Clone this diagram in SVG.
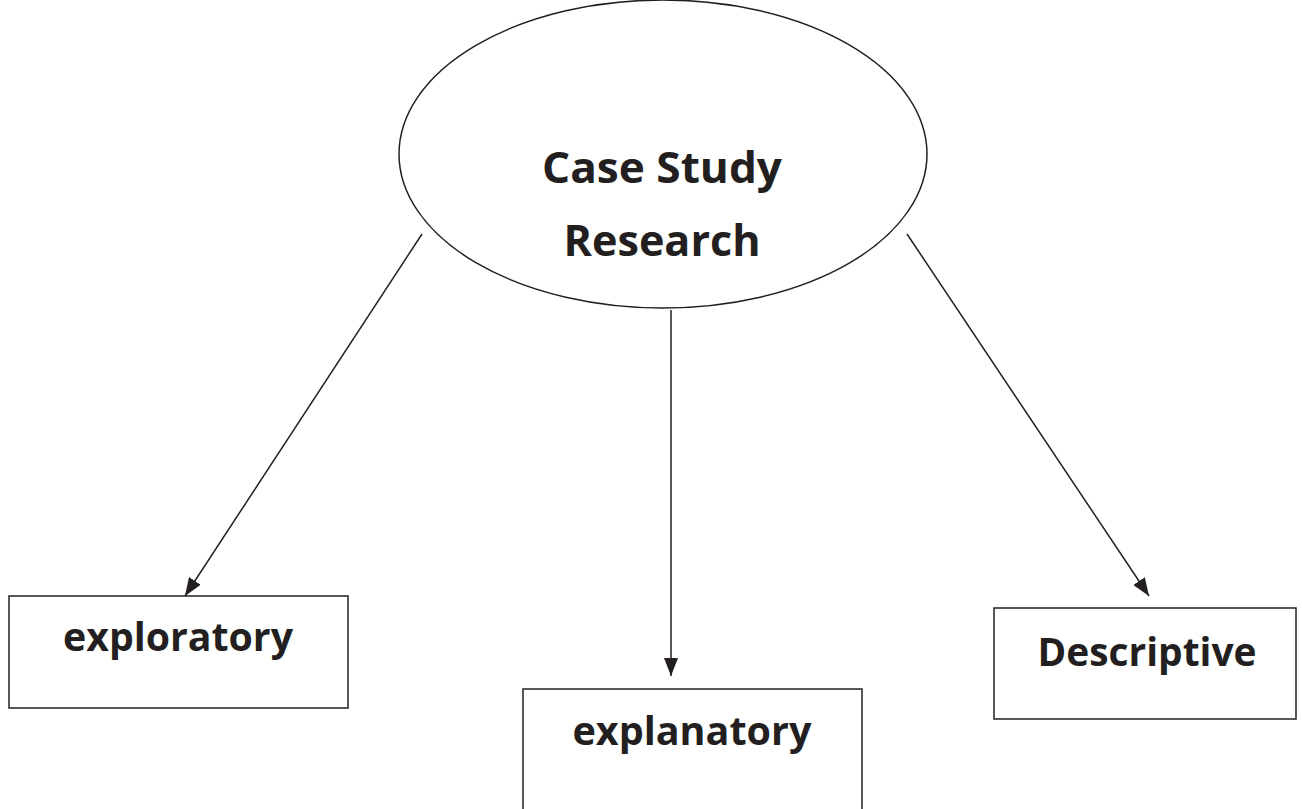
<svg xmlns="http://www.w3.org/2000/svg" width="1302" height="809" viewBox="0 0 1302 809">
  <style>
    .shape { fill: #ffffff; stroke: #231f20; stroke-width: 1.5; }
    .label { font-family: "Open Sans", "Liberation Sans", sans-serif; font-weight: bold; fill: #231f20; }
    .link { stroke: #231f20; stroke-width: 1.5; fill: none; marker-end: url(#arrow); }
  </style>
  <defs>
    <marker id="arrow" viewBox="0 0 18 14" refX="18" refY="7" markerWidth="18" markerHeight="14" markerUnits="userSpaceOnUse" orient="auto">
      <path d="M0,0 L18,7 L0,14 Z" fill="#231f20"/>
    </marker>
  </defs>
  <rect width="1302" height="809" fill="#ffffff"/>

  <g id="connectors">
    <line class="link" x1="422" y1="234" x2="185" y2="596"/>
    <line class="link" x1="671" y1="310" x2="671" y2="676"/>
    <line class="link" x1="907" y1="234" x2="1149" y2="596"/>
  </g>

  <g id="case-study-research">
    <ellipse class="shape" cx="663" cy="154" rx="264" ry="154"/>
    <text class="label" x="662" y="183" font-size="43" text-anchor="middle" textLength="240" lengthAdjust="spacingAndGlyphs">Case Study</text>
    <text class="label" x="662" y="256" font-size="43" text-anchor="middle" textLength="197" lengthAdjust="spacingAndGlyphs">Research</text>
  </g>

  <g id="exploratory">
    <rect class="shape" x="9" y="596" width="339" height="112"/>
    <text class="label" x="178" y="651" font-size="40" text-anchor="middle" textLength="230" lengthAdjust="spacingAndGlyphs">exploratory</text>
  </g>

  <g id="explanatory">
    <rect class="shape" x="523" y="689" width="339" height="140"/>
    <text class="label" x="692" y="745" font-size="40" text-anchor="middle" textLength="239" lengthAdjust="spacingAndGlyphs">explanatory</text>
  </g>

  <g id="descriptive">
    <rect class="shape" x="994" y="608" width="302" height="111"/>
    <text class="label" x="1147" y="666" font-size="40" text-anchor="middle" textLength="219" lengthAdjust="spacingAndGlyphs">Descriptive</text>
  </g>
</svg>
